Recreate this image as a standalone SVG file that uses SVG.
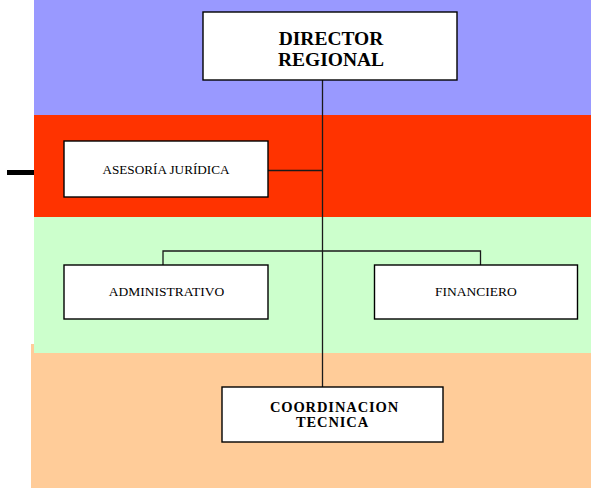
<svg xmlns="http://www.w3.org/2000/svg" width="591" height="488" viewBox="0 0 591 488">
<style>
.box{fill:#fff;stroke:#000;stroke-width:1.4}
.con{fill:none;stroke:#1a1a1a;stroke-width:1.3}
.t{font-family:"Liberation Serif","Times New Roman",serif;fill:#000;text-anchor:middle}
.b{font-weight:bold}
</style>
<rect x="34" y="0" width="557" height="115" fill="#9999FF"/>
<rect x="34" y="115" width="557" height="102" fill="#FF3300"/>
<rect x="34" y="217" width="557" height="136" fill="#CCFFCC"/>
<rect x="31" y="344" width="3" height="9" fill="#FFCC99"/>
<rect x="31" y="353" width="560" height="135" fill="#FFCC99"/>
<rect x="7" y="170" width="27" height="5" fill="#000"/>
<g id="connectors">
<path class="con" d="M322.5 80 V387"/>
<path class="con" d="M268 170.5 H322.5"/>
<path class="con" d="M163 265 V251 H480.5 V265"/>
</g>
<g id="director">
<rect class="box" x="203" y="12" width="254" height="68"/>
<text class="t b" x="331" y="45" font-size="19.5">DIRECTOR</text>
<text class="t b" x="331" y="66" font-size="19.5">REGIONAL</text>
</g>
<g id="asesoria">
<rect class="box" x="64" y="141" width="204" height="56"/>
<text class="t" x="166" y="174" font-size="13.2">ASESORÍA JURÍDICA</text>
</g>
<g id="administrativo">
<rect class="box" x="64" y="265" width="204" height="54"/>
<text class="t" x="166.5" y="296" font-size="13.5">ADMINISTRATIVO</text>
</g>
<g id="financiero">
<rect class="box" x="374.5" y="265" width="203" height="54"/>
<text class="t" x="476" y="296" font-size="13.5">FINANCIERO</text>
</g>
<g id="coordinacion">
<rect class="box" x="222" y="387" width="221" height="55"/>
<text class="t b" x="334.5" y="411.7" font-size="14.5" letter-spacing="0.9">COORDINACION</text>
<text class="t b" x="332.5" y="427.3" font-size="14.5" letter-spacing="0.9">TECNICA</text>
</g>
</svg>
